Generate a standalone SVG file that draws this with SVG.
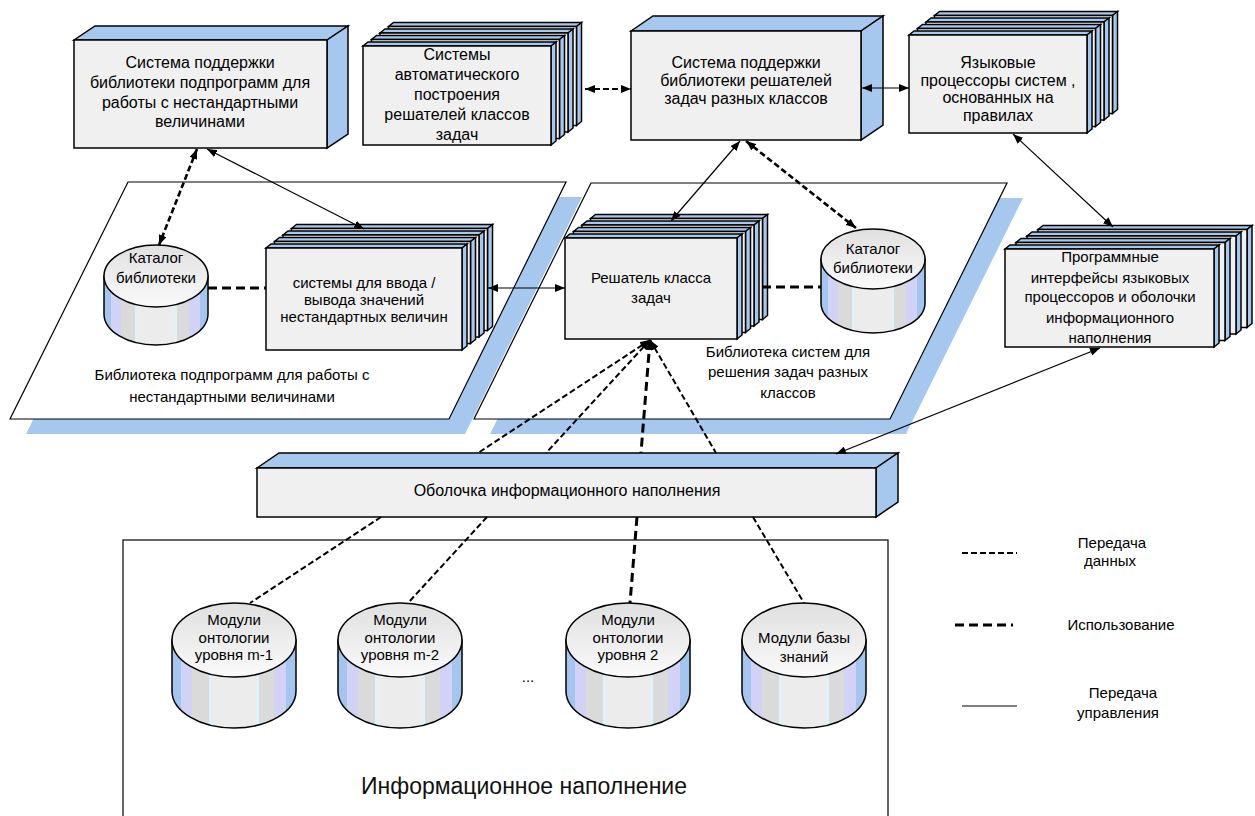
<svg xmlns="http://www.w3.org/2000/svg" width="1255" height="816" viewBox="0 0 1255 816">
<style>
.face{fill:#f0f0f0;stroke:#000;stroke-width:1.5}
.side{fill:#a6c8ee;stroke:#000;stroke-width:1.5}
.para{fill:#fff;stroke:#000;stroke-width:1.2}
.shadow{fill:#a6c8ee}
.cylb{fill:url(#cylSide);stroke:#000;stroke-width:1.5}
.cylt{fill:url(#cylTop);stroke:#000;stroke-width:1.5}
.t{font-family:"Liberation Sans",Arial,sans-serif;font-size:16px;fill:#000;text-anchor:middle}
.s{font-size:15px}
.big{font-family:"Liberation Sans",Arial,sans-serif;font-size:23px;fill:#111;text-anchor:middle}
.data{fill:none;stroke:#000;stroke-width:2;stroke-dasharray:6 3}
.thick{stroke-width:2.6}
.use{fill:none;stroke:#000;stroke-width:3;stroke-dasharray:9 5}
.ctrl{fill:none;stroke:#000;stroke-width:1.2}
</style>
<defs>
<marker id="ar" viewBox="0 0 10 8" refX="10" refY="4" markerWidth="10" markerHeight="8" markerUnits="userSpaceOnUse" orient="auto-start-reverse"><path d="M0,0 L10,4 L0,8 Z" fill="#000"/></marker>
<linearGradient id="cylSide" x1="0" y1="0" x2="1" y2="0">
<stop offset="0" stop-color="#a4c6ee"/><stop offset="0.07" stop-color="#a4c6ee"/>
<stop offset="0.07" stop-color="#d2d2f6"/><stop offset="0.16" stop-color="#d2d2f6"/>
<stop offset="0.16" stop-color="#dadada"/><stop offset="0.30" stop-color="#dadada"/>
<stop offset="0.30" stop-color="#dff2fc"/><stop offset="0.32" stop-color="#dff2fc"/>
<stop offset="0.32" stop-color="#ececec"/><stop offset="0.68" stop-color="#ececec"/>
<stop offset="0.68" stop-color="#dff2fc"/><stop offset="0.70" stop-color="#dff2fc"/>
<stop offset="0.70" stop-color="#dadada"/><stop offset="0.82" stop-color="#dadada"/>
<stop offset="0.82" stop-color="#d2d2f6"/><stop offset="0.92" stop-color="#d2d2f6"/>
<stop offset="0.92" stop-color="#a4c6ee"/><stop offset="1" stop-color="#a4c6ee"/>
</linearGradient>
<linearGradient id="cylTop" x1="0" y1="0" x2="0" y2="1"><stop offset="0" stop-color="#e0e0e0"/><stop offset="1" stop-color="#fafafa"/></linearGradient>
<g id="sh2"><polygon class="side" points="363,46 368,42 556,42 551,46"/><polygon class="side" points="551,46 556,42 556,141 551,145"/><rect class="face" x="363" y="46" width="188" height="99"/></g>
<g id="sh4"><polygon class="side" points="909,35 914,31 1092,31 1087,35"/><polygon class="side" points="1087,35 1092,31 1092,129 1087,133"/><rect class="face" x="909" y="35" width="178" height="98"/></g>
<g id="shL"><polygon class="side" points="266,248 271,244 467,244 462,248"/><polygon class="side" points="462,248 467,244 467,346 462,350"/><rect class="face" x="266" y="248" width="196" height="102"/></g>
<g id="shR"><polygon class="side" points="565,238 570,234 742,234 737,238"/><polygon class="side" points="737,238 742,234 742,335 737,339"/><rect class="face" x="565" y="238" width="172" height="101"/></g>
<g id="sh6"><polygon class="side" points="1005,249 1010,245 1219,245 1214,249"/><polygon class="side" points="1214,249 1219,245 1219,343 1214,347"/><rect class="face" x="1005" y="249" width="209" height="98"/></g>
</defs>
<rect width="1255" height="816" fill="#fff"/>

<g id="lib-subprograms">
<polygon class="shadow" points="144,197 582,197 465,434 26,434"/>
<polygon class="para" points="128,182 566,182 449,419 10,419"/>
<text class="t s" x="232" y="380">Библиотека подпрограмм для работы с</text>
<text class="t s" x="232" y="402">нестандартными величинами</text>
</g>
<g id="lib-solvers">
<polygon class="shadow" points="607,198 1023,198 906,434 490,434"/>
<polygon class="para" points="591,183 1007,183 890,419 474,419"/>
<text class="t s" x="788" y="357">Библиотека систем для</text>
<text class="t s" x="788" y="377">решения задач разных</text>
<text class="t s" x="788" y="398">классов</text>
</g>
<g id="info-content">
<rect x="123" y="540" width="765" height="300" fill="#fff" stroke="#000" stroke-width="1.2"/>
<text class="big" x="524" y="794">Информационное наполнение</text>
<text class="t s" x="528" y="682">...</text>
</g>

<g id="box-subprog-support">
<polygon class="side" points="74,40 95,26 348,26 327,40"/>
<polygon class="side" points="327,40 348,26 348,134 327,148"/>
<rect class="face" x="74" y="40" width="253" height="108"/>
<text class="t" x="200" y="68">Система поддержки</text>
<text class="t" x="200" y="88">библиотеки подпрограмм для</text>
<text class="t" x="200" y="108">работы с нестандартными</text>
<text class="t" x="200" y="127">величинами</text>
</g>
<g id="box-auto-build">
<use href="#sh2" x="25.5" y="-19.5"/><use href="#sh2" x="17" y="-13"/><use href="#sh2" x="8.5" y="-6.5"/><use href="#sh2"/>
<text class="t" x="457" y="60">Системы</text>
<text class="t" x="457" y="80">автоматического</text>
<text class="t" x="457" y="100">построения</text>
<text class="t" x="457" y="120">решателей классов</text>
<text class="t" x="457" y="140">задач</text>
</g>
<g id="box-solver-support">
<polygon class="side" points="631,31 653,16 883,16 861,31"/>
<polygon class="side" points="861,31 883,16 883,125 861,140"/>
<rect class="face" x="631" y="31" width="230" height="109"/>
<text class="t" x="746" y="68">Система поддержки</text>
<text class="t" x="746" y="86">библиотеки решателей</text>
<text class="t" x="746" y="104">задач разных классов</text>
</g>
<g id="box-lang-proc">
<use href="#sh4" x="25.5" y="-19.5"/><use href="#sh4" x="17" y="-13"/><use href="#sh4" x="8.5" y="-6.5"/><use href="#sh4"/>
<text class="t" x="998" y="68">Языковые</text>
<text class="t" x="998" y="86">процессоры систем ,</text>
<text class="t" x="998" y="103">основанных на</text>
<text class="t" x="998" y="121">правилах</text>
</g>
<g id="cyl-catalog-left">
<path class="cylb" d="M104,276 L104,314 A52,31 0 0 0 208,314 L208,276 Z"/>
<ellipse class="cylt" cx="156" cy="276" rx="52" ry="31"/>
<text class="t s" x="156" y="263">Каталог</text>
<text class="t s" x="156" y="283">библиотеки</text>
</g>
<g id="stack-io">
<use href="#shL" x="25.5" y="-19.5"/><use href="#shL" x="17" y="-13"/><use href="#shL" x="8.5" y="-6.5"/><use href="#shL"/>
<text class="t s" x="364" y="288">системы для ввода /</text>
<text class="t s" x="364" y="305">вывода значений</text>
<text class="t s" x="364" y="322">нестандартных величин</text>
</g>
<g id="stack-solver">
<use href="#shR" x="25.5" y="-19.5"/><use href="#shR" x="17" y="-13"/><use href="#shR" x="8.5" y="-6.5"/><use href="#shR"/>
<text class="t s" x="651" y="283">Решатель класса</text>
<text class="t s" x="651" y="303">задач</text>
</g>
<g id="cyl-catalog-right">
<path class="cylb" d="M821,259 L821,303 A52,30 0 0 0 925,303 L925,259 Z"/>
<ellipse class="cylt" cx="873" cy="259" rx="52" ry="30"/>
<text class="t s" x="873" y="254">Каталог</text>
<text class="t s" x="873" y="273">библиотеки</text>
</g>
<g id="stack-interfaces">
<use href="#sh6" x="33" y="-19.5"/><use href="#sh6" x="22" y="-13"/><use href="#sh6" x="11" y="-6.5"/><use href="#sh6"/>
<text class="t s" x="1110" y="262">Программные</text>
<text class="t s" x="1110" y="283">интерфейсы языковых</text>
<text class="t s" x="1110" y="302">процессоров и оболочки</text>
<text class="t s" x="1110" y="323">информационного</text>
<text class="t s" x="1110" y="343">наполнения</text>
</g>
<g id="bar-shell">
<polygon class="side" points="257,468 279,453 898,453 876,468"/>
<polygon class="side" points="876,468 898,453 898,502 876,517"/>
<rect class="face" x="257" y="468" width="619" height="49"/>
<text class="t" x="567" y="496">Оболочка информационного наполнения</text>
</g>
<g id="mod-m1">
<path class="cylb" d="M172,640 L172,691 A62,37 0 0 0 296,691 L296,640 Z"/>
<ellipse class="cylt" cx="234" cy="640" rx="62" ry="37"/>
<text class="t s" x="234" y="625">Модули</text><text class="t s" x="234" y="643">онтологии</text><text class="t s" x="234" y="660">уровня m-1</text>
</g>
<g id="mod-m2">
<path class="cylb" d="M338,640 L338,691 A62,37 0 0 0 462,691 L462,640 Z"/>
<ellipse class="cylt" cx="400" cy="640" rx="62" ry="37"/>
<text class="t s" x="400" y="625">Модули</text><text class="t s" x="400" y="643">онтологии</text><text class="t s" x="400" y="660">уровня m-2</text>
</g>
<g id="mod-2">
<path class="cylb" d="M566,640 L566,691 A62,37 0 0 0 690,691 L690,640 Z"/>
<ellipse class="cylt" cx="628" cy="640" rx="62" ry="37"/>
<text class="t s" x="628" y="625">Модули</text><text class="t s" x="628" y="643">онтологии</text><text class="t s" x="628" y="660">уровня 2</text>
</g>
<g id="mod-kb">
<path class="cylb" d="M742,640 L742,691 A62,37 0 0 0 866,691 L866,640 Z"/>
<ellipse class="cylt" cx="804" cy="640" rx="62" ry="37"/>
<text class="t s" x="804" y="643">Модули базы</text><text class="t s" x="804" y="662">знаний</text>
</g>

<g id="connectors">
<line class="data thick" x1="197" y1="149" x2="159" y2="245" marker-start="url(#ar)" marker-end="url(#ar)"/>
<line class="ctrl" x1="207" y1="149" x2="364" y2="229" marker-start="url(#ar)" marker-end="url(#ar)"/>
<line class="use" x1="208" y1="288" x2="266" y2="288"/>
<line class="ctrl" x1="488" y1="288" x2="565" y2="288" marker-start="url(#ar)" marker-end="url(#ar)"/>
<line class="data" x1="585" y1="89" x2="631" y2="89" marker-start="url(#ar)" marker-end="url(#ar)"/>
<line class="ctrl" x1="862" y1="88" x2="909" y2="88" marker-start="url(#ar)" marker-end="url(#ar)"/>
<line class="ctrl" x1="740" y1="141" x2="671" y2="221" marker-start="url(#ar)" marker-end="url(#ar)"/>
<line class="data thick" x1="746" y1="141" x2="856" y2="228" marker-start="url(#ar)" marker-end="url(#ar)"/>
<line class="use" x1="762" y1="287" x2="821" y2="287"/>
<line class="ctrl" x1="1013" y1="134" x2="1113" y2="227" marker-start="url(#ar)" marker-end="url(#ar)"/>
<line class="ctrl" x1="1100" y1="348" x2="836" y2="454" marker-start="url(#ar)" marker-end="url(#ar)"/>
<line class="data" x1="650" y1="340" x2="478" y2="453" marker-start="url(#ar)"/>
<line class="data" x1="381" y1="517" x2="250" y2="603"/>
<line class="data" x1="650" y1="340" x2="546" y2="453" marker-start="url(#ar)"/>
<line class="data" x1="487" y1="517" x2="408" y2="603"/>
<line class="use" x1="650" y1="340" x2="641" y2="453" marker-start="url(#ar)"/>
<line class="use" x1="637" y1="517" x2="630" y2="603"/>
<line class="data" x1="650" y1="340" x2="716" y2="453" marker-start="url(#ar)"/>
<line class="data" x1="753" y1="517" x2="804" y2="603"/>
</g>

<g id="legend">
<line class="data" x1="962" y1="553" x2="1017" y2="553"/>
<text class="t s" x="1112" y="548">Передача</text>
<text class="t s" x="1110" y="566">данных</text>
<line class="use" x1="955" y1="625" x2="1013" y2="625"/>
<text class="t s" x="1121" y="630">Использование</text>
<line class="ctrl" x1="962" y1="706" x2="1017" y2="706"/>
<text class="t s" x="1123" y="698">Передача</text>
<text class="t s" x="1118" y="718">управления</text>
</g>
</svg>
